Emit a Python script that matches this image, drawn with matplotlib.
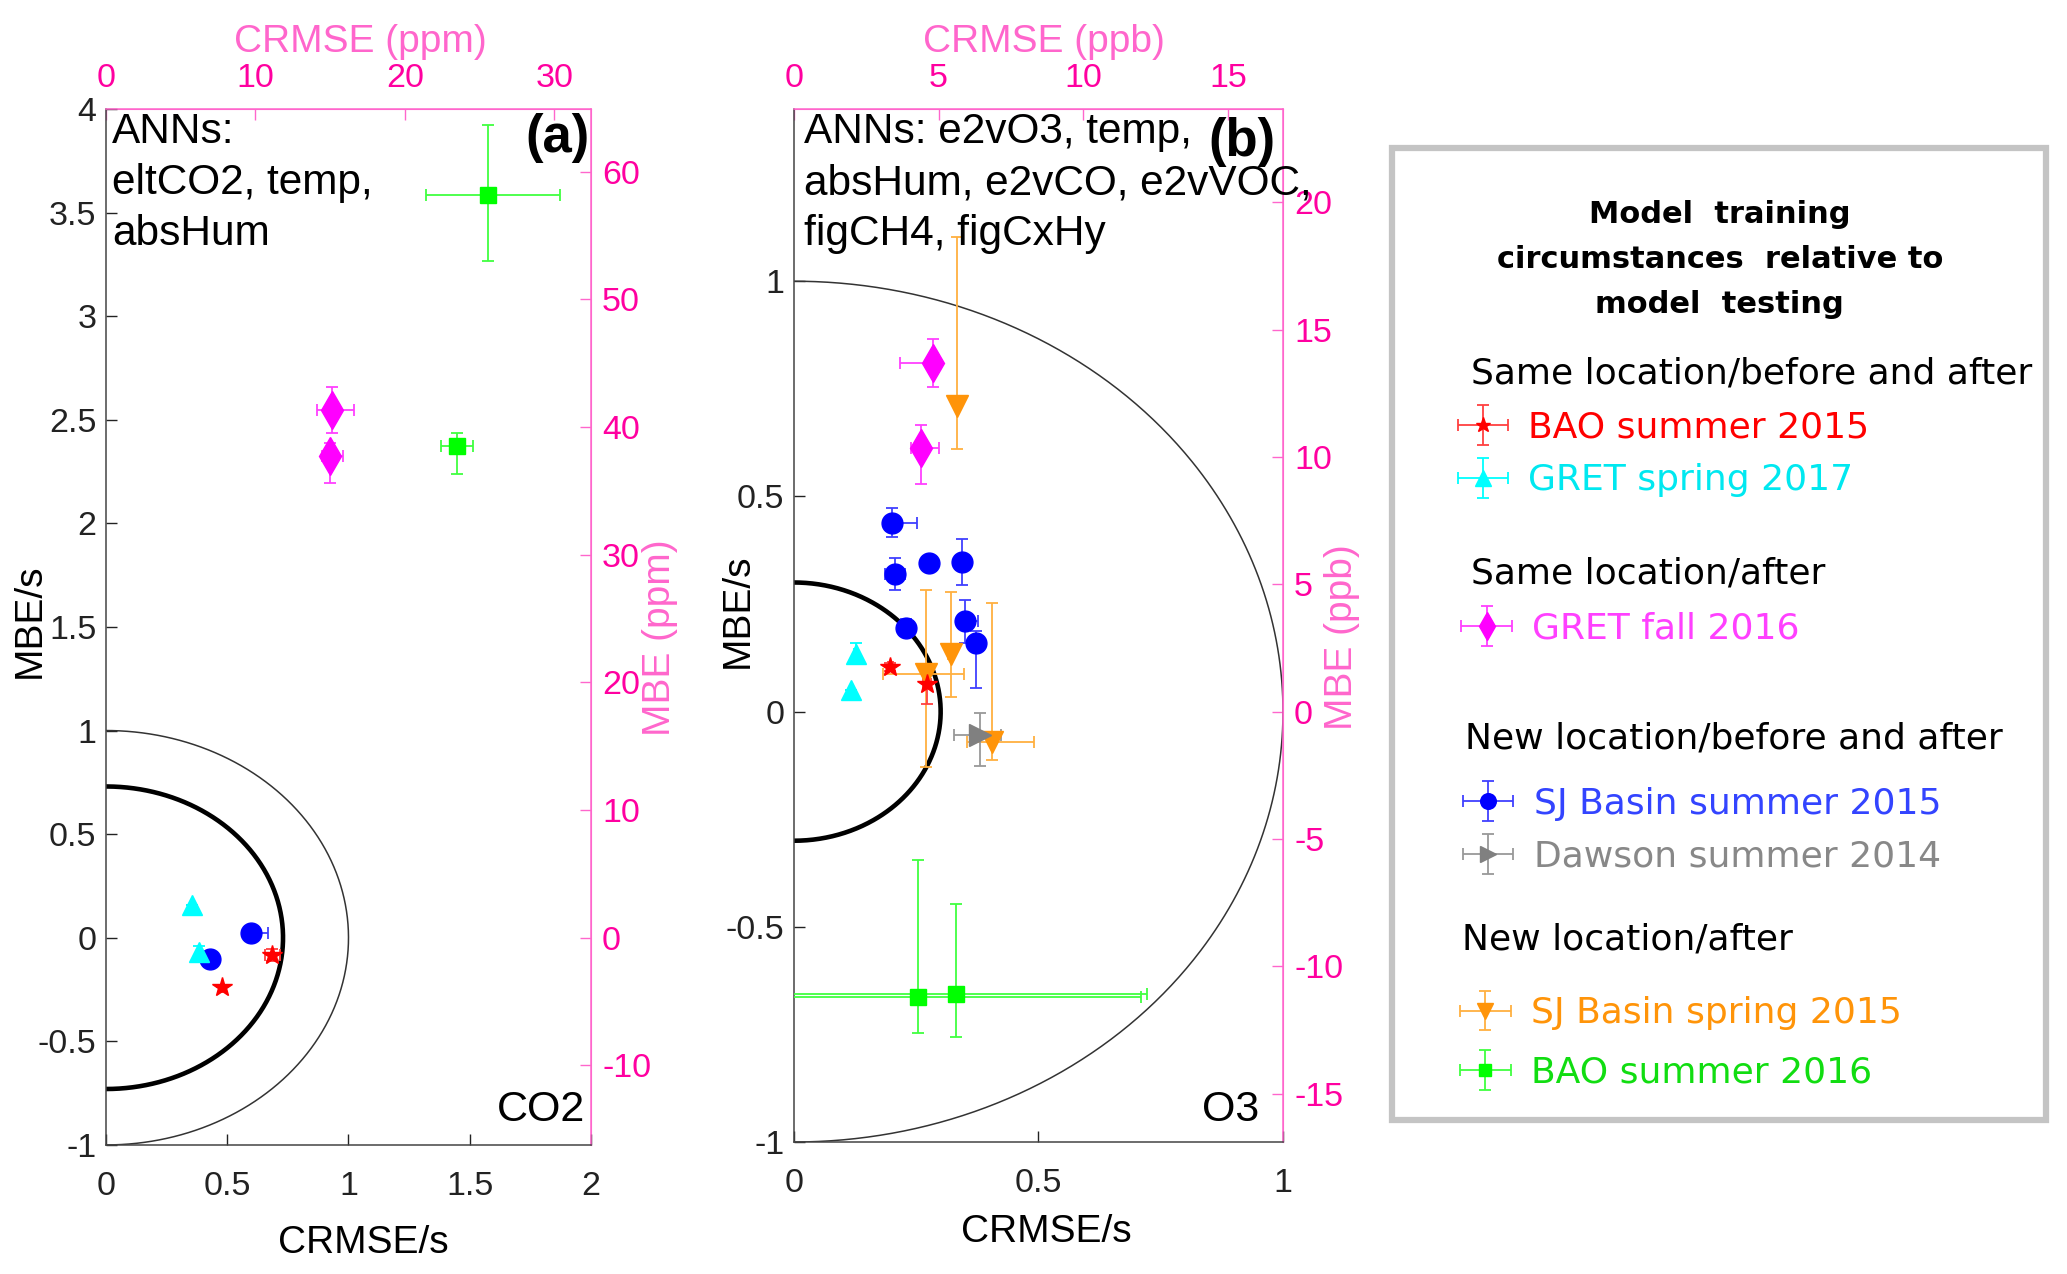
import numpy as np
import matplotlib
matplotlib.use('Agg')
import matplotlib.pyplot as plt
from matplotlib.patches import Rectangle
from matplotlib.container import ErrorbarContainer
from matplotlib.legend_handler import HandlerErrorbar

plt.rcParams['font.family'] = ['Liberation Sans', 'DejaVu Sans']
plt.rcParams['axes.unicode_minus'] = False

# ---------------- data ----------------
# scale factors (s) for secondary axes
s_co2 = 16.23   # ppm per unit
s_o3 = 16.9     # ppb per unit
r_thin = 1.0
r_thick_co2 = 0.73
r_thick_o3 = 0.30

# Panel (a) CO2
bao15_a_x = [0.686, 0.479]
bao15_a_y = [-0.083, -0.236]
bao15_a_xerr = [[0.03, 0.0], [0.03, 0.0]]
bao15_a_yerr = [[0.03, 0.0], [0.03, 0.0]]

gret17_a_x = [0.353, 0.385]
gret17_a_y = [0.157, -0.07]
gret17_a_xerr = [[0.0, 0.0], [0.0, 0.0]]
gret17_a_yerr = [[0.0, 0.02], [0.0, 0.03]]

gretf16_a_x = [0.931, 0.925]
gretf16_a_y = [2.548, 2.324]
gretf16_a_xerr = [[0.059, 0.035], [0.093, 0.052]]
gretf16_a_yerr = [[0.11, 0.13], [0.112, 0.064]]

sjs15_a_x = [0.598, 0.427]
sjs15_a_y = [0.023, -0.103]
sjs15_a_xerr = [[0.0, 0.0], [0.068, 0.0]]
sjs15_a_yerr = [[0.0, 0.0], [0.0, 0.0]]

bao16_a_x = [1.574, 1.449]
bao16_a_y = [3.584, 2.372]
bao16_a_xerr = [[0.255, 0.066], [0.30, 0.066]]
bao16_a_yerr = [[0.316, 0.134], [0.34, 0.066]]

# Panel (b) O3
bao15_b_x = [0.197, 0.272]
bao15_b_y = [0.104, 0.063]
bao15_b_xerr = [[0.005, 0.008], [0.005, 0.008]]
bao15_b_yerr = [[0.01, 0.045], [0.01, 0.045]]

gret17_b_x = [0.127, 0.116]
gret17_b_y = [0.135, 0.051]
gret17_b_xerr = [[0.005, 0.0], [0.005, 0.0]]
gret17_b_yerr = [[0.01, 0.0], [0.025, 0.0]]

gretf16_b_x = [0.2835, 0.2596]
gretf16_b_y = [0.809, 0.6115]
gretf16_b_xerr = [[0.066, 0.021], [0.0, 0.038]]
gretf16_b_yerr = [[0.055, 0.083], [0.056, 0.054]]

sjs15_b_x = [0.201, 0.207, 0.276, 0.343, 0.349, 0.373, 0.229]
sjs15_b_y = [0.439, 0.319, 0.345, 0.348, 0.2095, 0.16, 0.195]
sjs15_b_xerr = [[0.013, 0.02, 0.005, 0.005, 0.014, 0.005, 0.005],
                [0.051, 0.02, 0.005, 0.005, 0.028, 0.005, 0.005]]
sjs15_b_yerr = [[0.033, 0.037, 0.015, 0.053, 0.05, 0.105, 0.02],
                [0.033, 0.037, 0.015, 0.053, 0.05, 0.027, 0.02]]

dawson_b_x = [0.381]
dawson_b_y = [-0.055]
dawson_b_xerr = [[0.053], [0.043]]
dawson_b_yerr = [[0.071], [0.051]]

sjsp15_b_x = [0.334, 0.321, 0.271, 0.404]
sjsp15_b_y = [0.709, 0.135, 0.087, -0.0715]
sjsp15_b_xerr = [[0.005, 0.005, 0.088, 0.05], [0.005, 0.005, 0.076, 0.087]]
sjsp15_b_yerr = [[0.099, 0.102, 0.215, 0.042], [0.394, 0.144, 0.196, 0.324]]

bao16_b_x = [0.254, 0.331]
bao16_b_y = [-0.662, -0.657]
bao16_b_xerr = [[0.455, 0.391], [0.455, 0.391]]
bao16_b_yerr = [[0.085, 0.10], [0.317, 0.211]]

legend_labels = ['BAO summer 2015', 'GRET spring 2017', 'GRET fall 2016',
                 'SJ Basin summer 2015', 'Dawson summer 2014',
                 'SJ Basin spring 2015', 'BAO summer 2016']
group_headings = ['Same location/before and after', 'Same location/after',
                  'New location/before and after', 'New location/after']

# ---------------- styles ----------------
C_RED = '#ff0000'
C_CYAN = '#00ffff'
C_MAG = '#ff00ff'
C_BLUE = '#0000ff'
C_GRAY = '#808080'
C_ORANGE = '#ff9409'
C_GREEN = '#00ff00'
PINK_TICK = '#ff00a0'
PINK_LABEL = '#ff66cc'
PINK_SPINE = '#ff66cc'

styles = {
    'bao15': dict(marker='*', ms=15, color=C_RED, ecolor='#ff4040'),
    'gret17': dict(marker='^', ms=15, color=C_CYAN, ecolor=C_CYAN),
    'gretf16': dict(marker='d', ms=19, color=C_MAG, ecolor='#ff40ff'),
    'sjs15': dict(marker='o', ms=15, color=C_BLUE, ecolor='#4040ff'),
    'dawson': dict(marker='>', ms=16, color=C_GRAY, ecolor='#999999'),
    'sjsp15': dict(marker='v', ms=16, color=C_ORANGE, ecolor='#ffb040'),
    'bao16': dict(marker='s', ms=11.5, color=C_GREEN, ecolor='#40ff40'),
}

W, H = 2067, 1274
fig = plt.figure(figsize=(W / 100, H / 100), dpi=100)

axA = fig.add_axes([0.0513, 0.1013, 0.2346, 0.8132])
axB = fig.add_axes([0.3841, 0.1036, 0.2366, 0.8108])

TICK_FS = 24.5
LAB_FS = 28


def draw_series(ax, key, x, y, xerr, yerr):
    st = styles[key]
    return ax.errorbar(x, y, xerr=xerr, yerr=yerr, fmt=st['marker'],
                       ms=st['ms'], color=st['color'], mec=st['color'], mfc=st['color'],
                       ecolor=st['ecolor'], elinewidth=1.3, capsize=4.5, capthick=1.3,
                       linestyle='none', zorder=3)


def draw_circles(ax, r_thick):
    th = np.linspace(-np.pi / 2, np.pi / 2, 500)
    ax.plot(r_thin * np.cos(th), r_thin * np.sin(th), color='#333333', lw=1.1, zorder=2)
    ax.plot(r_thick * np.cos(th), r_thick * np.sin(th), color='black', lw=3.3, zorder=2)


def style_axes(ax, s, xticks, yticks, top_ticks, right_ticks, top_label, right_label):
    ax.set_xticks(xticks)
    ax.set_yticks(yticks)
    ax.set_xticklabels([f'{v:g}' for v in xticks])
    ax.set_yticklabels([f'{v:g}' for v in yticks])
    ax.tick_params(direction='in', length=8, width=1, labelsize=TICK_FS, colors='#222222',
                   top=False, right=False)
    ax.tick_params(axis='x', pad=19)
    ax.tick_params(axis='y', pad=7)
    for sp in ['left', 'bottom']:
        ax.spines[sp].set_color('#444444')
        ax.spines[sp].set_linewidth(1.1)
    for sp in ['top', 'right']:
        ax.spines[sp].set_color(PINK_SPINE)
        ax.spines[sp].set_linewidth(1.1)
    secx = ax.secondary_xaxis('top', functions=(lambda v: v * s, lambda v: v / s))
    secx.set_xticks(top_ticks)
    secx.set_xticklabels([f'{v:g}' for v in top_ticks])
    secx.tick_params(direction='in', length=8, width=1, labelsize=TICK_FS, colors=PINK_SPINE,
                     labelcolor=PINK_TICK, pad=11)
    secx.spines['top'].set_color(PINK_SPINE)
    secx.set_xlabel(top_label, fontsize=LAB_FS, color=PINK_LABEL)
    secy = ax.secondary_yaxis('right', functions=(lambda v: v * s, lambda v: v / s))
    secy.set_yticks(right_ticks)
    secy.set_yticklabels([f'{v:g}' for v in right_ticks])
    secy.tick_params(direction='in', length=8, width=1, labelsize=TICK_FS, colors=PINK_SPINE,
                     labelcolor=PINK_TICK, pad=8)
    secy.spines['right'].set_color(PINK_SPINE)
    secy.set_ylabel(right_label, fontsize=LAB_FS, color=PINK_LABEL)
    return secx, secy


# ---- Panel (a)
draw_circles(axA, r_thick_co2)
draw_series(axA, 'bao16', bao16_a_x, bao16_a_y, bao16_a_xerr, bao16_a_yerr)
draw_series(axA, 'gretf16', gretf16_a_x, gretf16_a_y, gretf16_a_xerr, gretf16_a_yerr)
draw_series(axA, 'sjs15', sjs15_a_x, sjs15_a_y, sjs15_a_xerr, sjs15_a_yerr)
draw_series(axA, 'gret17', gret17_a_x, gret17_a_y, gret17_a_xerr, gret17_a_yerr)
draw_series(axA, 'bao15', bao15_a_x, bao15_a_y, bao15_a_xerr, bao15_a_yerr)
axA.set_xlim(0, 2)
axA.set_ylim(-1, 4)
sxA, syA = style_axes(axA, s_co2, [0, 0.5, 1, 1.5, 2], list(np.arange(-1, 4.01, 0.5)),
                      [0, 10, 20, 30], [-10, 0, 10, 20, 30, 40, 50, 60],
                      'CRMSE (ppm)', 'MBE (ppm)')
axA.set_xlabel('CRMSE/s', fontsize=LAB_FS)
axA.set_ylabel('MBE/s', fontsize=LAB_FS)
axA.xaxis.set_label_coords(0.53, -0.077)
axA.yaxis.set_label_coords(-0.12, 0.506)
sxA.xaxis.set_label_coords(0.524, 1.055, transform=axA.transAxes)
syA.yaxis.set_label_coords(1.105, 0.49, transform=axA.transAxes)
axA.text(0.012, 0.997, 'ANNs:\neltCO2, temp,\nabsHum', transform=axA.transAxes,
         ha='left', va='top', fontsize=30.5, linespacing=1.35)
axA.text(0.998, 0.972, '(a)', transform=axA.transAxes, ha='right', va='center',
         fontsize=38, fontweight='bold')
axA.text(0.988, 0.034, 'CO2', transform=axA.transAxes, ha='right', va='center', fontsize=31)

# ---- Panel (b)
draw_circles(axB, r_thick_o3)
cont_bao16 = draw_series(axB, 'bao16', bao16_b_x, bao16_b_y, bao16_b_xerr, bao16_b_yerr)
cont_sjsp15 = draw_series(axB, 'sjsp15', sjsp15_b_x, sjsp15_b_y, sjsp15_b_xerr, sjsp15_b_yerr)
cont_gretf16 = draw_series(axB, 'gretf16', gretf16_b_x, gretf16_b_y, gretf16_b_xerr, gretf16_b_yerr)
cont_sjs15 = draw_series(axB, 'sjs15', sjs15_b_x, sjs15_b_y, sjs15_b_xerr, sjs15_b_yerr)
cont_dawson = draw_series(axB, 'dawson', dawson_b_x, dawson_b_y, dawson_b_xerr, dawson_b_yerr)
cont_gret17 = draw_series(axB, 'gret17', gret17_b_x, gret17_b_y, gret17_b_xerr, gret17_b_yerr)
cont_bao15 = draw_series(axB, 'bao15', bao15_b_x, bao15_b_y, bao15_b_xerr, bao15_b_yerr)
axB.set_xlim(0, 1)
axB.set_ylim(-1, 1.4)
sxB, syB = style_axes(axB, s_o3, [0, 0.5, 1], [-1, -0.5, 0, 0.5, 1],
                      [0, 5, 10, 15], [-15, -10, -5, 0, 5, 10, 15, 20],
                      'CRMSE (ppb)', 'MBE (ppb)')
axB.set_xlabel('CRMSE/s', fontsize=LAB_FS)
axB.set_ylabel('MBE/s', fontsize=LAB_FS)
axB.xaxis.set_label_coords(0.517, -0.07)
axB.yaxis.set_label_coords(-0.078, 0.514)
sxB.xaxis.set_label_coords(0.511, 1.055, transform=axB.transAxes)
syB.yaxis.set_label_coords(1.084, 0.489, transform=axB.transAxes)
axB.text(0.02, 0.997, 'ANNs: e2vO3, temp,\nabsHum, e2vCO, e2vVOC,\nfigCH4, figCxHy',
         transform=axB.transAxes, ha='left', va='top', fontsize=30.5, linespacing=1.35,
         clip_on=False, zorder=5)
axB.text(0.984, 0.968, '(b)', transform=axB.transAxes, ha='right', va='center',
         fontsize=38, fontweight='bold')
axB.text(0.951, 0.031, 'O3', transform=axB.transAxes, ha='right', va='center', fontsize=31)

# ---------------- legend panel ----------------
fig.patches.append(Rectangle((0.6733, 0.1209), 0.3164, 0.7630, transform=fig.transFigure,
                             fill=False, ec='#c4c4c4', lw=4.5, zorder=0))
LEG_FONT = 'DejaVu Sans'
LEG_FS = 26
title_lines = ['Model  training', 'circumstances  relative to', 'model  testing']
for yy, line in zip([0.8318, 0.7963, 0.7610], title_lines):
    fig.text(0.8320, yy, line, ha='center', va='center', fontsize=22, fontweight='bold',
             family=LEG_FONT)

head_pos = [(0.7116, 0.7072), (0.7116, 0.5495), (0.7087, 0.4207), (0.7072, 0.2622)]
for (hx, hy), txt in zip(head_pos, group_headings):
    fig.text(hx, hy, txt, ha='left', va='center', fontsize=LEG_FS, family=LEG_FONT)

hmap = {ErrorbarContainer: HandlerErrorbar(xerr_size=0.7, yerr_size=0.55)}
groups = [
    ([cont_bao15, cont_gret17], legend_labels[0:2], ['#ff0000', '#00e8f0'], (0.7050, 0.6436), 0.52),
    ([cont_gretf16], legend_labels[2:3], ['#ff40ff'], (0.7068, 0.5064), 0.52),
    ([cont_sjs15, cont_dawson], legend_labels[3:5], ['#3344ff', '#888888'], (0.7075, 0.3484), 0.52),
    ([cont_sjsp15, cont_bao16], legend_labels[5:7], ['#ff9409', '#11dd11'], (0.7062, 0.1814), 0.70),
]
for handles, labels, cols, anchor, lsp in groups:
    leg = fig.legend(handles, labels, loc='center left', bbox_to_anchor=anchor,
                     bbox_transform=fig.transFigure, frameon=False,
                     prop=dict(family=LEG_FONT, size=LEG_FS), labelcolor=cols,
                     handlelength=1.42, handletextpad=0.55, borderpad=0, borderaxespad=0,
                     labelspacing=lsp, markerscale=0.75, handler_map=hmap)

fig.savefig('out.png', dpi=100)
